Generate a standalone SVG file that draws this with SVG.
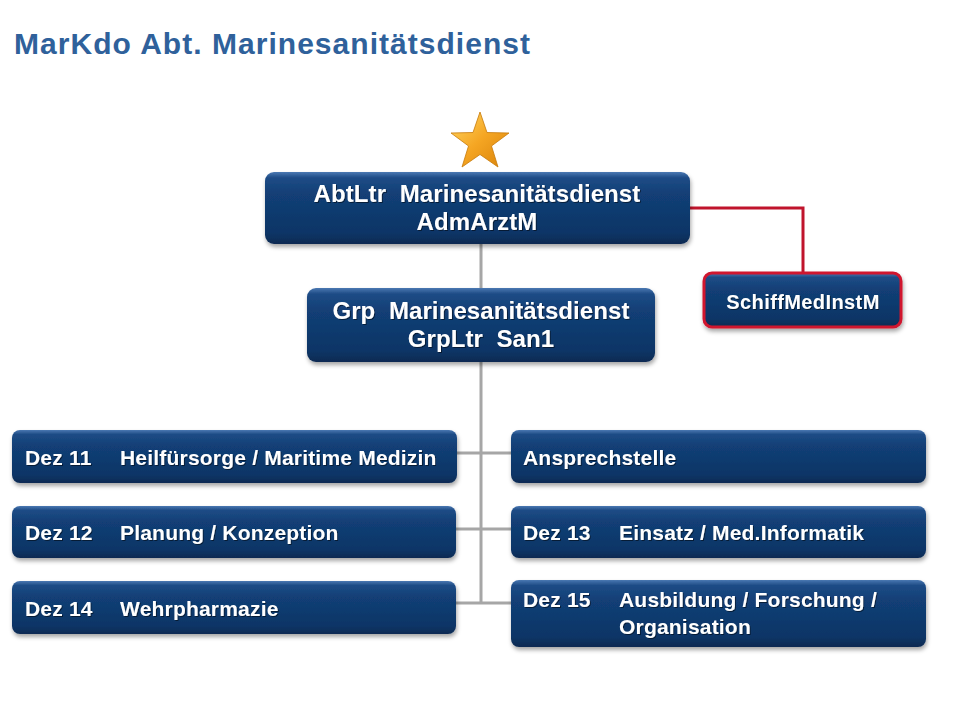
<svg xmlns="http://www.w3.org/2000/svg" width="960" height="720" viewBox="0 0 960 720">
<defs>
<linearGradient id="boxg" x1="0" y1="0" x2="0" y2="1">
<stop offset="0" stop-color="#4A78B2"/>
<stop offset="0.08" stop-color="#1E4C86"/>
<stop offset="0.3" stop-color="#123F76"/>
<stop offset="0.85" stop-color="#0E3566"/>
<stop offset="1" stop-color="#0A2A52"/>
</linearGradient>
<linearGradient id="starg" x1="0" y1="0" x2="1" y2="1">
<stop offset="0" stop-color="#FFD966"/>
<stop offset="0.5" stop-color="#F5A623"/>
<stop offset="1" stop-color="#D9820A"/>
</linearGradient>
<filter id="sh" x="-10%" y="-20%" width="120%" height="150%">
<feDropShadow dx="1" dy="3" stdDeviation="2" flood-color="#000" flood-opacity="0.35"/>
</filter>
<filter id="tsh" x="-5%" y="-20%" width="110%" height="150%">
<feDropShadow dx="1" dy="1" stdDeviation="0.6" flood-color="#000" flood-opacity="0.5"/>
</filter>
</defs>
<style>
.box{fill:url(#boxg);filter:url(#sh)}
.t{font-family:"Liberation Sans",Arial,sans-serif;font-weight:bold;fill:#FFFFFF;filter:url(#tsh);white-space:pre}
.big{font-size:24px;letter-spacing:0.1px}
.dez{font-size:21px;letter-spacing:0.2px}
.conn{stroke:#A6A6A6;stroke-width:3;fill:none}
.red{stroke:#C0142C;stroke-width:3;fill:none}
</style>
<rect width="960" height="720" fill="#FFFFFF"/>
<text x="14" y="54" font-family="Liberation Sans,Arial,sans-serif" font-weight="bold" font-size="30" fill="#2F619B" textLength="516" lengthAdjust="spacing">MarKdo Abt. Marinesanitätsdienst</text>

<g id="connectors">
<path class="conn" d="M481 244V288M481 362V603M457 453H511M456 529H511M456 603H511"/>
<path class="red" d="M690 208H803V272"/>
</g>

<g id="star">
<path d="M480 112L487 132.5L509 133L491.5 146L498 167L480 154.5L462 167L468.5 146L451 133L473 132.5Z" fill="url(#starg)" stroke="#C77A0A" stroke-width="0.8"/>
</g>

<g id="abtltr">
<rect class="box" x="265" y="172" width="425" height="72" rx="9"/>
<text class="t big" x="477" y="202" text-anchor="middle">AbtLtr  Marinesanitätsdienst</text>
<text class="t big" x="477" y="230" text-anchor="middle">AdmArztM</text>
</g>

<g id="grp">
<rect class="box" x="307" y="288" width="348" height="74" rx="9"/>
<text class="t big" x="481" y="319" text-anchor="middle">Grp  Marinesanitätsdienst</text>
<text class="t big" x="481" y="347" text-anchor="middle">GrpLtr  San1</text>
</g>

<g id="schiffmed">
<rect class="box" x="704" y="273" width="197" height="54" rx="8" stroke="#D0142E" stroke-width="3"/>
<text class="t" x="803" y="309" text-anchor="middle" font-size="20" letter-spacing="0.4">SchiffMedInstM</text>
</g>

<g id="dez11">
<rect class="box" x="12" y="430" width="445" height="53" rx="8"/>
<text class="t dez" x="25" y="465">Dez 11</text>
<text class="t dez" x="120" y="465">Heilfürsorge / Maritime Medizin</text>
</g>
<g id="dez12">
<rect class="box" x="12" y="506" width="444" height="52" rx="8"/>
<text class="t dez" x="25" y="540">Dez 12</text>
<text class="t dez" x="120" y="540">Planung / Konzeption</text>
</g>
<g id="dez14">
<rect class="box" x="12" y="581" width="444" height="53" rx="8"/>
<text class="t dez" x="25" y="616">Dez 14</text>
<text class="t dez" x="120" y="616">Wehrpharmazie</text>
</g>
<g id="ansprech">
<rect class="box" x="511" y="430" width="415" height="53" rx="8"/>
<text class="t dez" x="523" y="465">Ansprechstelle</text>
</g>
<g id="dez13">
<rect class="box" x="511" y="506" width="415" height="52" rx="8"/>
<text class="t dez" x="523" y="540">Dez 13</text>
<text class="t dez" x="619" y="540">Einsatz / Med.Informatik</text>
</g>
<g id="dez15">
<rect class="box" x="511" y="580" width="415" height="67" rx="8"/>
<text class="t dez" x="523" y="607">Dez 15</text>
<text class="t dez" x="619" y="607">Ausbildung / Forschung /</text>
<text class="t dez" x="619" y="634">Organisation</text>
</g>
</svg>
